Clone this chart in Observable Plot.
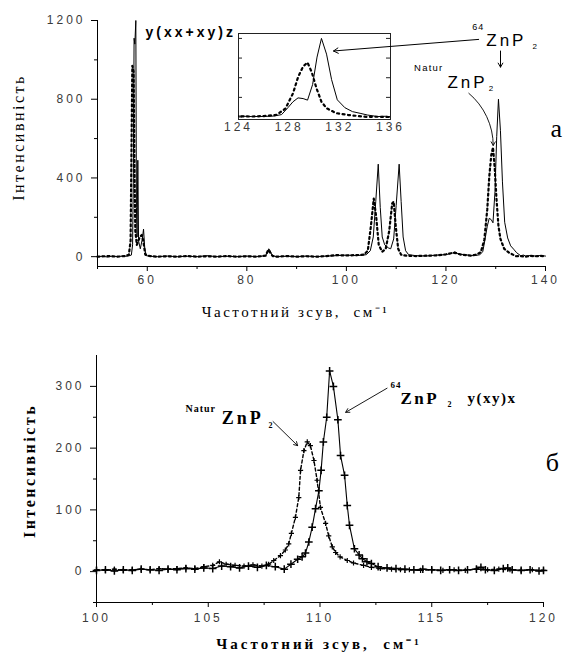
<!DOCTYPE html>
<html><head><meta charset="utf-8">
<script src="https://cdn.jsdelivr.net/npm/d3@7"></script>
<script src="https://cdn.jsdelivr.net/npm/@observablehq/plot@0.6"></script>
<style>
body{margin:0;background:#fff;}
#wrap{position:relative;width:567px;height:657px;overflow:hidden;background:#fff;}
#wrap svg{display:block;}
#inset{position:absolute;left:200px;top:20px;}
</style></head><body><div id="wrap"></div>
<script>
// ---- Panel а: spectra y(xx+xy)z ----
const topX64 = [50,51,52,53,54,55,56,56.8,57.05,57.2,57.35,57.5,57.7,57.82,57.95,58.1,58.25,58.6,59.0,59.25,59.5,59.8,60.5,62,64,66,68,70,72,74,76,78,80,82,83.8,84.4,84.7,85.1,86,88,90,92,94,96,98,100,102,104,104.8,105.4,105.9,106.4,106.8,107.2,107.7,108.4,108.9,109.5,110.0,110.6,111.0,111.4,111.9,112.5,114,116,118,120,121.3,121.8,122.4,123,124,125,126,126.8,127.4,127.9,128.3,128.7,129.1,129.45,129.85,130.2,130.55,130.95,131.35,131.8,132.4,133.0,133.6,134.2,135,135.6,136,137,138,139,140];
const topY64 = [0,2,-2,3,0,3,2,8,60,400,1110,1080,1200,250,100,490,80,40,90,140,40,5,2,0,3,0,2,0,5,0,2,0,3,0,5,40,30,5,0,2,0,3,0,3,5,8,5,10,30,100,280,470,250,100,60,45,40,90,260,470,280,100,30,10,5,3,8,10,18,25,15,12,10,5,6,10,25,95,155,195,188,172,330,610,800,640,380,175,95,55,38,20,5,8,3,6,3,6,3];
const topXNat = [50,52,54,55.5,56.3,56.65,56.85,57.0,57.25,57.45,57.6,57.9,58.5,58.9,59.2,59.6,60.5,62,64,66,68,70,72,74,76,78,80,82,83.8,84.3,84.7,85.2,86,88,90,92,94,96,98,100,102,103.5,104.3,104.9,105.5,106.0,106.5,107.2,107.9,108.6,109.2,109.5,109.9,110.4,111,112,114,116,118,120,121.5,122,123,124,125,126,127,127.7,128.3,128.7,129.1,129.45,129.8,130.15,130.55,130.95,131.7,132.7,134.1,135,136,137,138,139,140];
const topYNat = [0,3,0,3,10,80,600,970,940,400,130,60,100,110,80,10,3,0,2,0,3,0,2,0,3,0,2,0,5,35,20,3,0,3,0,2,0,3,8,6,8,10,30,150,295,200,60,25,40,130,270,280,160,40,10,5,3,5,6,12,20,18,10,8,5,10,22,85,240,405,515,555,450,295,155,90,40,20,2,3,0,4,2,4,2];
const topXTicks = [60,80,100,120,140];
const topXMinor = [50,70,90,110,130];
const topYTicks = [0,400,800,1200];
const topYMinor = [200,600,1000];
const insetXTicks = [124,128,132,136];
const insetYTicks = [0,200,400,600,800];

// ---- Panel б: spectra y(xy)x ----
const b64X = [100,100.4,100.8,101.2,101.6,102,102.4,102.8,103.2,103.6,104,104.4,104.8,105.2,105.6,106,106.4,106.8,107.2,107.6,108,108.4,108.7,109,109.2,109.35,109.5,109.65,109.8,109.95,110.05,110.15,110.3,110.43,110.6,110.8,110.92,111.1,111.22,111.32,111.54,111.75,111.9,112.1,112.3,112.6,113,113.4,113.8,114.2,114.6,115,115.4,115.8,116.2,116.6,117,117.2,117.4,117.8,118.2,118.4,118.6,119,119.4,119.8,120];
const b64Y = [2,3,1,3,2,4,3,2,4,3,5,4,6,5,9,8,6,9,7,10,8,4,12,20,24,30,48,72,102,131,164,210,250,325,300,246,188,156,107,75,37,27,21,16,13,8,6,5,4,3,4,3,2,3,2,3,4,7,3,2,5,6,3,2,3,1,2];
const bNatX = [100,100.4,100.8,101.2,101.6,102,102.4,102.8,103.2,103.6,104,104.4,104.8,105.2,105.5,105.8,106.2,106.6,107,107.4,107.7,107.93,108.23,108.45,108.6,108.72,108.9,109.05,109.13,109.28,109.43,109.57,109.73,109.87,110.02,110.25,110.39,110.55,110.7,110.9,111.22,111.5,111.95,112.3,112.7,113.2,113.6,114,114.5,115,115.5,116,116.5,117,117.5,118,118.5,119,119.5,120];
const bNatY = [3,2,4,2,3,4,3,5,4,5,6,5,8,10,16,12,10,9,11,9,12,18,26,35,45,62,88,120,164,196,210,204,180,148,104,78,58,40,31,24,18,14,10,7,5,4,3,3,2,3,2,3,2,4,3,4,3,2,3,2];
const botXTicks = [100,105,110,115,120];
const botXMinor = [102.5,107.5,112.5,117.5];
const botYTicks = [0,100,200,300];
const botYMinor = [-50,50,150,250];

const yTitle = "Інтенсивність";
const xTitle = "Частотний зсув,  см⁻¹";

const top64 = topX64.map((x,i)=>({x, y: topY64[i]}));
const topNat = topXNat.map((x,i)=>({x, y: topYNat[i]}));
const bot64 = b64X.map((x,i)=>({x, y: b64Y[i]}));
const botNat = bNatX.map((x,i)=>({x, y: bNatY[i]}));

const SANS = "'Liberation Sans', Arial, sans-serif";
const SERIF = "'Liberation Serif', 'Times New Roman', serif";
const fmt = d => String(d);

// annotation text pieces (label, anchor in data units, style)
const topNotes = [
  {x: 59.64, y: 1139, text: "y(xx+xy)z", size: 14, weight: "bold", font: SANS, ls: 3},
  {x: 125.3, y: 1165, text: "64", size: 9, weight: "normal", font: SANS, ls: 1},
  {x: 128.1, y: 1099, text: "ZnP", size: 17, weight: "normal", font: SANS, ls: 3},
  {x: 137.4, y: 1070, text: "2", size: 8, weight: "normal", font: SANS, ls: 0},
  {x: 113.6, y: 960, text: "Natur", size: 9.5, weight: "normal", font: SANS, ls: 1.2},
  {x: 120.3, y: 885, text: "ZnP", size: 17, weight: "normal", font: SANS, ls: 3},
  {x: 128.6, y: 855, text: "2", size: 8, weight: "normal", font: SANS, ls: 0},
  {x: 141.0, y: 650, text: "а", size: 26, weight: "normal", font: SERIF, ls: 0}
];
const botNotes = [
  {x: 103.98, y: 264, text: "Natur", size: 10, weight: "bold", font: SERIF, ls: 1},
  {x: 105.6, y: 248, text: "ZnP", size: 18, weight: "bold", font: SERIF, ls: 3},
  {x: 107.7, y: 236, text: "2", size: 8, weight: "bold", font: SERIF, ls: 0},
  {x: 113.15, y: 302, text: "64", size: 9, weight: "bold", font: SERIF, ls: 1},
  {x: 113.6, y: 281, text: "ZnP", size: 17, weight: "bold", font: SERIF, ls: 2.5},
  {x: 115.7, y: 270, text: "2", size: 8, weight: "bold", font: SERIF, ls: 0},
  {x: 116.6, y: 281, text: "y(xy)x", size: 15, weight: "bold", font: SERIF, ls: 1.5},
  {x: 120.1, y: 176, text: "б", size: 26, weight: "normal", font: SERIF, ls: 0}
];

function noteMarks(notes) {
  return notes.map(n => Plot.text([n], {x: "x", y: "y", text: "text", fontSize: n.size, fontWeight: n.weight, fontFamily: n.font, textAnchor: "start", fill: "black"}));
}
function finish(svg, spacings) {
  const s = d3.select(svg);
  s.selectAll('g[aria-label$="tick label"] text').style("letter-spacing", "3px").style("fill", "#3a3a3a");
  s.selectAll('g[aria-label="text"]').each(function(d, i) {
    if (spacings[i] != null) d3.select(this).style("letter-spacing", spacings[i] + "px");
  });
  return svg;
}

const wrap = document.getElementById("wrap");
const baseStyle = {background: "transparent", fontFamily: SANS, fontSize: "12px", overflow: "visible", color: "black"};

// ----- top panel -----
const topTitles = [
  Plot.text([yTitle], {frameAnchor: "left", rotate: -90, dx: -79, dy: -6, textAnchor: "middle", lineAnchor: "middle", fontFamily: SERIF, fontSize: 16, fill: "black"}),
  Plot.text([xTitle], {frameAnchor: "bottom", dx: -26, dy: 46, textAnchor: "middle", lineAnchor: "middle", fontFamily: SERIF, fontSize: 15, fill: "black"})
];
const topPlot = Plot.plot({
  width: 567, height: 330,
  marginLeft: 97, marginRight: 22, marginTop: 20, marginBottom: 64,
  x: {domain: [50, 140]},
  y: {domain: [-50, 1200]},
  style: baseStyle,
  marks: [
    Plot.ruleX([50], {stroke: "black"}),
    Plot.ruleY([-50], {stroke: "black"}),
    Plot.axisX({ticks: topXTicks, tickSize: 5, tickPadding: 4, tickFormat: fmt, label: null}),
    Plot.axisX({ticks: topXMinor, tickSize: 3, tickFormat: () => "", label: null}),
    Plot.axisY({ticks: topYTicks, tickSize: 6, tickPadding: 6, tickFormat: fmt, label: null}),
    Plot.axisY({ticks: topYMinor, tickSize: 3, tickFormat: () => "", label: null}),
    Plot.line(topNat, {x: "x", y: "y", stroke: "black", strokeWidth: 2.2, strokeDasharray: "2,3"}),
    Plot.line(top64, {x: "x", y: "y", stroke: "black", strokeWidth: 1}),
    ...topTitles,
    ...noteMarks(topNotes),
    Plot.arrow([{x1: 130.96, y1: 1045, x2: 130.96, y2: 963}], {x1: "x1", y1: "y1", x2: "x2", y2: "y2", stroke: "black", strokeWidth: 1, headLength: 7}),
    Plot.arrow([{x1: 124.6, y1: 830, x2: 129.5, y2: 565}], {x1: "x1", y1: "y1", x2: "x2", y2: "y2", bend: 25, stroke: "black", strokeWidth: 0.9, headLength: 7})
  ]
});
finish(topPlot, [2.5, 2.5, ...topNotes.map(n => n.ls)]);
wrap.appendChild(topPlot);

// ----- bottom panel -----
const botTitles = [
  Plot.text([yTitle], {frameAnchor: "left", rotate: -90, dx: -67, dy: -8, textAnchor: "middle", lineAnchor: "middle", fontFamily: SERIF, fontSize: 16, fontWeight: "bold", fill: "black"}),
  Plot.text([xTitle], {frameAnchor: "bottom", dx: -1, dy: 42, textAnchor: "middle", lineAnchor: "middle", fontFamily: SERIF, fontSize: 15, fontWeight: "bold", fill: "black"})
];
const botPlot = Plot.plot({
  width: 567, height: 327,
  marginLeft: 96, marginRight: 24, marginTop: 25, marginBottom: 55,
  x: {domain: [100, 120]},
  y: {domain: [-50, 350]},
  style: baseStyle,
  marks: [
    Plot.ruleX([100], {stroke: "black"}),
    Plot.ruleY([-50], {stroke: "black"}),
    Plot.axisX({ticks: botXTicks, tickSize: 5, tickPadding: 6, tickFormat: fmt, label: null}),
    Plot.axisX({ticks: botXMinor, tickSize: 3, tickFormat: () => "", label: null}),
    Plot.axisY({ticks: botYTicks, tickSize: 6, tickPadding: 6, tickFormat: fmt, label: null}),
    Plot.axisY({ticks: botYMinor, tickSize: 3, tickFormat: () => "", label: null}),
    Plot.line(botNat, {x: "x", y: "y", stroke: "black", strokeWidth: 1.4, strokeDasharray: "3,2.5"}),
    Plot.dot(botNat, {x: "x", y: "y", symbol: "plus", r: 1.8, stroke: "black", strokeWidth: 1.2}),
    Plot.line(bot64, {x: "x", y: "y", stroke: "black", strokeWidth: 1.1}),
    Plot.dot(bot64, {x: "x", y: "y", symbol: "plus", r: 2.6, stroke: "black", strokeWidth: 1.5}),
    ...botTitles,
    ...noteMarks(botNotes),
    Plot.arrow([{x1: 107.9, y1: 243, x2: 109.0, y2: 204}], {x1: "x1", y1: "y1", x2: "x2", y2: "y2", stroke: "black", strokeWidth: 0.9, headLength: 7}),
    Plot.arrow([{x1: 113.0, y1: 297, x2: 111.15, y2: 258}], {x1: "x1", y1: "y1", x2: "x2", y2: "y2", stroke: "black", strokeWidth: 0.9, headLength: 7})
  ]
});
finish(botPlot, [2.5, 3, ...botNotes.map(n => n.ls)]);
wrap.appendChild(botPlot);

// ----- inset (zoom of the 124–136 cm-1 band of panel а) -----
const insetPlot = Plot.plot({
  width: 300, height: 118,
  marginLeft: 38, marginRight: 110, marginTop: 13, marginBottom: 19,
  x: {domain: [124, 136]},
  y: {domain: [-25, 850], axis: null},
  style: baseStyle,
  marks: [
    Plot.frame({fill: "white", stroke: "#222"}),
    Plot.axisX({ticks: insetXTicks, tickSize: 0, tickPadding: 3, tickFormat: fmt, label: null}),
    Plot.tickY(insetYTicks, {y: d => d, insetRight: 148, stroke: "#222"}),
    Plot.tickY(insetYTicks, {y: d => d, insetLeft: 148, stroke: "#222"}),
    Plot.line(topNat, {x: "x", y: "y", stroke: "black", strokeWidth: 2.2, strokeDasharray: "2,3.5", clip: true}),
    Plot.line(top64, {x: "x", y: "y", stroke: "black", strokeWidth: 1, clip: true}),
    Plot.arrow([{x1: 142.96, y1: 790, x2: 131.5, y2: 672}], {x1: "x1", y1: "y1", x2: "x2", y2: "y2", stroke: "black", strokeWidth: 1, headLength: 8})
  ]
});
insetPlot.id = "inset";
finish(insetPlot, []);
wrap.appendChild(insetPlot);
</script></body></html>
